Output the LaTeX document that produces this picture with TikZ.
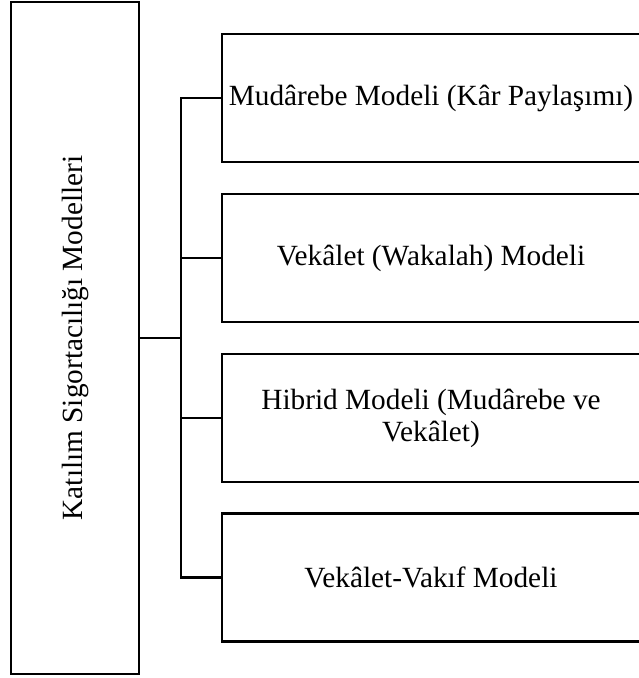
\documentclass[tikz,border=0pt]{standalone}
\usepackage{fontspec}
\setmainfont{Liberation Serif}
\usetikzlibrary{positioning}

\begin{document}
\begin{tikzpicture}[x=1pt,y=-1pt]
			\tikzstyle{modelbox}=[draw,line width=2.2pt,minimum width=418pt,minimum height=128pt,align=center,inner sep=0pt]
			\tikzstyle{every path}=[line width=2.2pt]
			\fontsize{29.3}{32}\selectfont

			\useasboundingbox (0,0) rectangle (638,678);

			\node (katilim) at (75,338) [draw,line width=2.2pt,minimum width=128pt,minimum height=672pt,inner sep=0pt] {};
			\node (katilimtext) at (75,338) [rotate=90] {Katılım Sigortacılığı Modelleri};

			\node (mudarebe) at (431,98) [modelbox] {Mudârebe Modeli (Kâr Paylaşımı)};
			\node (vekalet) at (431,258) [modelbox] {Vekâlet (Wakalah) Modeli};
			\node (hibrid) at (431,418) [modelbox] {Hibrid Modeli (Mudârebe ve\\Vekâlet)};
			\node (vakif) at (431,577.5) [modelbox] {Vekâlet-Vakıf Modeli};

			\coordinate (trunk) at (181,338);

			\draw (katilim.east) -- (trunk);
			\draw (mudarebe.west) -| (trunk) |- (vakif.west);
			\draw (vekalet.west) -| (trunk);
			\draw (hibrid.west) -| (trunk);
		\end{tikzpicture}
\end{document}
